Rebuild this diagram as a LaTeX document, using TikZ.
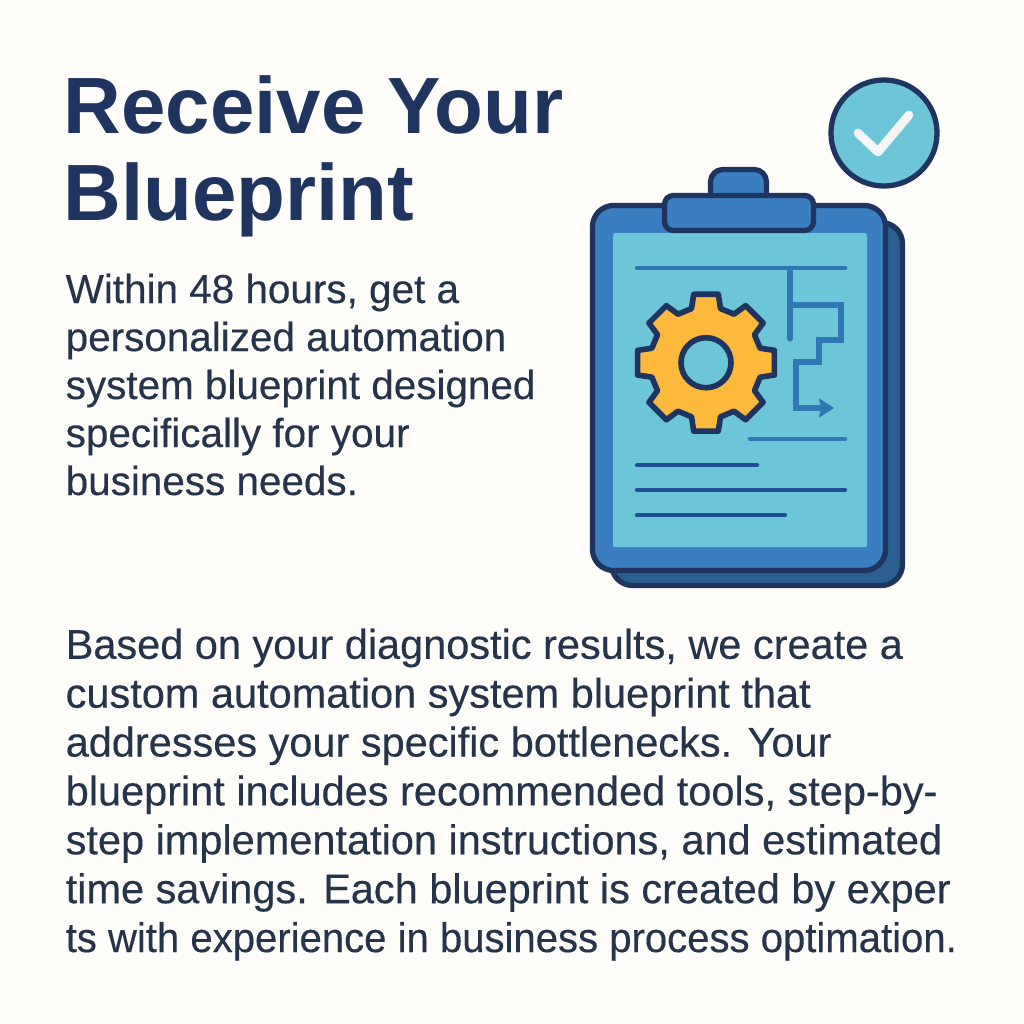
\documentclass[tikz,border=0pt]{standalone}
\usepackage{fontspec}
\setmainfont{Liberation Sans}
\newfontfamily\bodyfont[RawFeature={embolden=0.3}]{Liberation Sans}
\usetikzlibrary{arrows.meta}
\definecolor{paperbg}{HTML}{FEFDFA}
\definecolor{navy}{HTML}{1F3560}
\definecolor{inkbody}{HTML}{263449}
\definecolor{boardblue}{HTML}{3A7DC0}
\definecolor{boardback}{HTML}{2A5F8F}
\definecolor{sheet}{HTML}{6CC6D7}
\definecolor{sketchline}{HTML}{2F78B4}
\definecolor{textline}{HTML}{1F4E94}
\definecolor{gearyellow}{HTML}{FDB93C}
\tikzset{
  outlined/.style={draw=navy, line width=1.5pt, line join=round},
  sketch/.style={draw=sketchline, line width=1.45pt, line cap=round, line join=round},
  textbar/.style={draw=textline, line width=1.25pt, line cap=round},
  bodytext/.style={anchor=north west, inner sep=0pt, align=left, text=inkbody, font=\bodyfont\fontsize{11.5pt}{13.65pt}\selectfont},
}
\begin{document}
\begin{tikzpicture}[x=0.01cm, y=-0.01cm]
  \useasboundingbox[fill=paperbg] (0,0) rectangle (1024,1024);
  % text
  \node[anchor=north west, inner sep=0pt, align=left, text=navy, font=\fontsize{22.7pt}{24.75pt}\selectfont\bfseries] (title) at (63,75) {Receive Your\\Blueprint};
  \node[bodytext] (intro) at (65,273) {Within 48 hours, get a\\personalized automation\\system blueprint designed\\specifically for your\\business needs.};
  \node[bodytext, font=\bodyfont\fontsize{11.8pt}{13.9pt}\selectfont] (details) at (65,628) {Based on your diagnostic results, we create a\\custom automation system blueprint that\\addresses your specific bottlenecks. Your\\blueprint includes recommended tools, step-by-\\step implementation instructions, and estimated\\time savings. Each blueprint is created by exper\\\scalebox{0.966}[1]{ts with experience in business process optimation.}};
  % clipboard
  \draw[outlined, fill=boardback, rounded corners=6pt] (611.5,222.5) rectangle (902.5,585.5);
  \draw[outlined, fill=boardblue, rounded corners=6pt] (592.5,205.5) rectangle (885.5,570.5);
  \fill[sheet, rounded corners=0.6pt] (613,233) rectangle (867,547);
  \draw[outlined, fill=boardblue, rounded corners=3.5pt] (710.5,197) -- (710.5,169.5) -- (766.5,169.5) -- (766.5,197);
  \draw[outlined, fill=boardblue, rounded corners=2.5pt] (664.5,195.5) rectangle (813.5,230.5);
  % badge
  \node[circle, outlined, fill=sheet, minimum size=1.06cm, inner sep=0pt] (badge) at (884,133) {};
  \draw[line width=2.5pt, draw=white!96!black, line cap=round, line join=round] (858,133) -- (878,152) -- (909,115);
  % sketch on the sheet
  \draw[sketch, line width=1.3pt] (637,268) -- (845,268);
  \draw[sketch] (790,268) -- (790,339);
  \coordinate (flowstart) at (790,305);
  \coordinate (flowend) at (834,408);
  \draw[sketch, line join=miter, -{Stealth[length=0.15cm, width=0.19cm, inset=0.02cm]}] (flowstart) -- (841,305) -- (841,340) -- (819,340) -- (819,362) -- (796,362) -- (796,408) -- (flowend);
  \draw[sketch, line width=1.3pt] (750,439) -- (845,439);
  \draw[textbar] (637,465) -- (757,465);
  \draw[textbar] (637,490) -- (845,490);
  \draw[textbar] (637,515) -- (785,515);
  % gear
  \begin{scope}[shift={(706,362.7)}]
    \draw[outlined, line width=1.6pt, fill=gearyellow] (-15:56)
      \foreach \a in {0,45,...,315} { -- ({\a-15}:56) -- ({\a-10.2}:69.5) -- ({\a+10.2}:69.5) -- ({\a+15}:56) } -- cycle;
    \node[circle, outlined, line width=1.6pt, fill=sheet, minimum size=0.5cm, inner sep=0pt] (hub) at (0,0) {};
  \end{scope}
\end{tikzpicture}
\end{document}
